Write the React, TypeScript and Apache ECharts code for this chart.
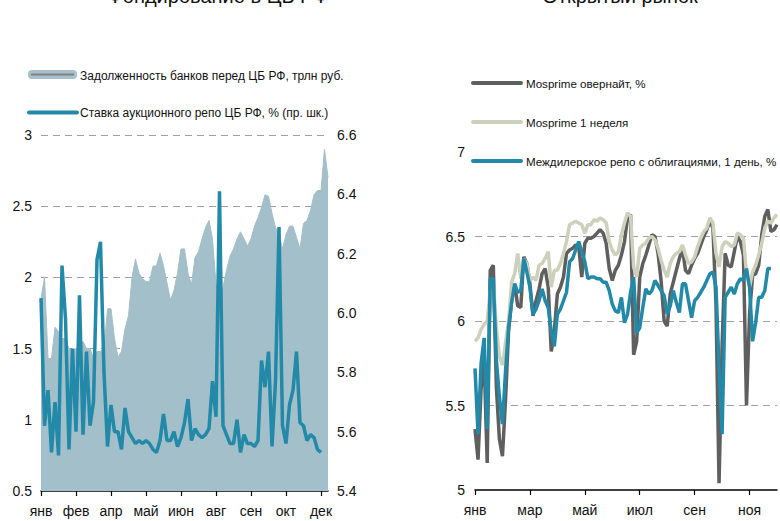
import React, { useEffect, useRef } from "react";
import * as echarts from "echarts";

// ---------- Left panel: Фондирование в ЦБ РФ ----------
const leftMonths = ["янв", "фев", "апр", "май", "июн", "авг", "сен", "окт", "дек"];
const LEFT_STEP = 10;
// Задолженность банков перед ЦБ РФ, трлн руб.
const leftDebt = [
  1.85, 2.0, 1.43, 1.43, 1.65, 1.62, 1.57, 1.57, 1.5, 1.49,
  1.5, 1.52, 1.55, 1.5, 1.5, 1.43, 1.48, 1.48, 1.5, 1.78,
  1.78, 1.57, 1.44, 1.48, 1.64, 1.73, 2.0, 2.13, 2.03, 1.99,
  1.97, 1.97, 2.08, 2.08, 2.17, 2.08, 1.96, 1.84, 1.91, 2.03,
  2.2, 2.2, 2.03, 1.95, 2.14, 2.18, 2.27, 2.35, 2.4, 2.27,
  1.95, 1.9, 1.93, 2.05, 2.15, 2.2, 2.27, 2.32, 2.27, 2.22,
  2.27, 2.36, 2.42, 2.49, 2.58, 2.57, 2.45, 2.35, 2.3, 2.2,
  2.3, 2.36, 2.36, 2.28, 2.2, 2.38, 2.4, 2.47, 2.58, 2.61,
  2.61, 2.9, 2.7,
];
// Ставка аукционного репо ЦБ РФ, % (пр. шк.)
const leftRepo = [
  6.05, 5.62, 5.74, 5.53, 5.7, 5.52, 6.16, 5.98, 5.54, 5.88,
  5.6, 6.06, 5.59, 5.87, 5.62, 5.7, 6.18, 6.24, 5.8, 5.55,
  5.69, 5.6, 5.6, 5.54, 5.68, 5.6, 5.58, 5.56, 5.57, 5.56,
  5.57, 5.56, 5.54, 5.53, 5.57, 5.66, 5.57, 5.57, 5.6, 5.55,
  5.58, 5.63, 5.71, 5.57, 5.61, 5.59, 5.58, 5.59, 5.61, 5.77,
  5.65, 6.41, 5.62, 5.59, 5.56, 5.56, 5.64, 5.53, 5.59, 5.56,
  5.56, 5.55, 5.57, 5.84, 5.75, 5.87, 5.55, 5.77, 6.29, 5.62,
  5.56, 5.69, 5.74, 5.87, 5.63, 5.62, 5.57, 5.59, 5.58, 5.54,
  5.53, null, null,
];

// ---------- Right panel: Открытый рынок ----------
const rightMonths = ["янв", "мар", "май", "июл", "сен", "ноя"];
const RIGHT_STEP = 18;
const mosprimeOvernight = [
  5.36, 5.18, 5.6, 5.77, 5.16, 6.3, 6.33, 5.61, 5.3, 5.2,
  5.53, 5.94, 6.12, 6.22, 6.09, 6.08, 6.38, 6.34, 6.22, 6.03,
  6.12, 6.19, 6.28, 6.31, 6.2, 5.82, 5.94, 6.16, 6.2, 6.26,
  6.4, 6.42, 6.43, 6.45, 6.44, 6.26, 6.46, 6.49, 6.49, 6.5,
  6.52, 6.54, 6.52, 6.46, 6.31, 6.24, 6.3, 6.33, 6.39, 6.47,
  6.61, 6.63, 5.8, 5.88, 6.26, 6.34, 6.39, 6.45, 6.51, 6.5,
  6.4, 6.24, 6.0, 5.97, 6.16, 6.23, 6.3, 6.37, 6.43, 6.3,
  6.28, 6.33, 6.37, 6.4, 6.45, 6.5, 6.54, 6.59, 6.55, 6.1,
  5.04, 5.85, 6.4, 6.33, 6.32, 6.41, 6.5, 6.47, 6.39, 5.5,
  6.04, 6.27, 6.28, 6.33, 6.51, 6.62, 6.66, 6.53, 6.54, 6.57,
];
const mosprimeWeek = [
  5.88, 5.9, 5.95, 5.98, 6.0, 6.18, 6.24, 5.96, 5.79, 5.74,
  5.87, 6.0, 6.23, 6.28, 6.4, 6.25, 6.37, 6.34, 6.24, 6.26,
  6.24, 6.33, 6.34, 6.37, 6.41, 6.2, 6.3, 6.3, 6.34, 6.4,
  6.47, 6.57, 6.58, 6.59, 6.58, 6.57, 6.52, 6.57, 6.57, 6.6,
  6.59, 6.61, 6.6, 6.58, 6.47, 6.42, 6.39, 6.41, 6.51, 6.58,
  6.64, 6.62, 6.32, 6.26, 6.43, 6.45, 6.46, 6.49, 6.5, 6.48,
  6.43, 6.36, 6.3, 6.26, 6.34, 6.38, 6.4, 6.41, 6.45, 6.39,
  6.34, 6.35, 6.38, 6.44, 6.49, 6.53, 6.55, 6.61, 6.58, 6.4,
  6.32, 6.44, 6.47, 6.46, 6.44, 6.45, 6.52, 6.51, 6.49, 6.28,
  6.2, 6.29, 6.33, 6.39, 6.46, 6.55, 6.59, 6.58, 6.61, 6.63,
];
const interdealerRepo = [
  5.72, 5.33, 5.75, 5.9, 5.36, 6.25, 6.25, 5.77, 5.55, 5.39,
  5.7, 5.96, 6.11, 6.22, 6.17, 6.18, 6.37, 6.29, 6.2, 6.04,
  6.07, 6.12, 6.19, 6.12, 6.08, 5.94, 5.85, 6.04, 6.07, 6.12,
  6.17, 6.35, 6.37, 6.42, 6.47, 6.41, 6.35, 6.25, 6.26, 6.26,
  6.25, 6.25, 6.23, 6.23, 6.18, 6.1, 6.06, 6.05, 6.14, 5.99,
  6.04, 6.17, 6.26, 5.93, 5.96, 6.08, 6.19, 6.16, 6.18, 6.24,
  6.21, 6.18, 6.15, 6.04, 6.09, 6.18, 6.11, 6.05, 6.22, 6.22,
  6.12, 6.02, 6.12, 6.14, 6.17, 6.2, 6.24, 6.28, 6.29, 6.2,
  5.73, 5.33, 6.14, 6.17, 6.2, 6.16, 6.22, 6.25, 6.24, 6.31,
  6.2, 5.88, 5.99, 6.14, 6.14, 6.18, 6.31, 6.31, null, null,
];

const FONT = "'Liberation Sans', Arial, sans-serif";
const BLUE = "#2289A9";
const AREA = "#A3BFC9";
const DARK = "#5F5F5F";
const LIGHT = "#CDD1BB";
const GRID_LINE = { show: true, lineStyle: { color: "#A0A0A0", width: 1, type: [7, 5] as any } };

export default function App() {
  const ref = useRef<HTMLDivElement>(null);
  useEffect(() => {
    if (!ref.current) return;
    const chart = echarts.init(ref.current, undefined, { renderer: "svg" });
    const leftCats = leftDebt.map((_, i) => String(i));
    const rightCats = mosprimeOvernight.map((_, i) => String(i));
    const axisText = { color: "#111", fontSize: 14, fontFamily: FONT };
    const xAxisBase = {
      type: "category" as const,
      boundaryGap: false,
      axisLine: { show: true, lineStyle: { color: "#000", width: 1.5 } },
      axisTick: { show: true, length: 5, lineStyle: { color: "#000", width: 1.2 } },
      splitLine: { show: false },
    };
    const legendText = (text: string, x: number, y: number, size: number) => ({
      type: "text",
      x,
      y,
      style: { text, fill: "#111", fontSize: size, fontFamily: FONT, verticalAlign: "middle" },
    });
    const option: any = {
      animation: false,
      backgroundColor: "#fff",
      grid: [
        { left: 41, top: 135, width: 287, height: 356 },
        { left: 475, top: 152, width: 302, height: 338 },
      ],
      xAxis: [
        {
          ...xAxisBase,
          gridIndex: 0,
          data: leftCats,
          axisTick: { ...xAxisBase.axisTick, interval: LEFT_STEP - 1 },
          axisLabel: {
            ...axisText,
            margin: 13,
            interval: LEFT_STEP - 1,
            formatter: (_v: string, i: number) => leftMonths[Math.round(i / LEFT_STEP)] ?? "",
          },
        },
        {
          ...xAxisBase,
          gridIndex: 1,
          data: rightCats,
          axisTick: { ...xAxisBase.axisTick, interval: RIGHT_STEP - 1 },
          axisLabel: {
            ...axisText,
            margin: 13,
            interval: RIGHT_STEP - 1,
            formatter: (_v: string, i: number) => rightMonths[Math.round(i / RIGHT_STEP)] ?? "",
          },
        },
      ],
      yAxis: [
        {
          type: "value",
          gridIndex: 0,
          min: 0.5,
          max: 3,
          interval: 0.5,
          axisLine: { show: false },
          axisTick: { show: false },
          axisLabel: { ...axisText, margin: 9 },
          splitLine: { ...GRID_LINE, showMinLine: false },
        },
        {
          type: "value",
          gridIndex: 0,
          position: "right",
          min: 5.4,
          max: 6.6,
          interval: 0.2,
          axisLine: { show: false },
          axisTick: { show: false },
          axisLabel: { ...axisText, margin: 9, formatter: (v: number) => v.toFixed(1) },
          splitLine: { show: false },
        },
        {
          type: "value",
          gridIndex: 1,
          min: 5,
          max: 7,
          interval: 0.5,
          axisLine: { show: false },
          axisTick: { show: false },
          axisLabel: { ...axisText, margin: 10 },
          splitLine: { ...GRID_LINE, showMinLine: false, showMaxLine: false },
        },
      ],
      series: [
        {
          name: "Задолженность банков перед ЦБ РФ, трлн руб.",
          type: "line",
          xAxisIndex: 0,
          yAxisIndex: 0,
          data: leftDebt,
          symbol: "none",
          lineStyle: { color: AREA, width: 1 },
          areaStyle: { color: AREA, opacity: 1, origin: "start" },
        },
        {
          name: "Ставка аукционного репо ЦБ РФ, % (пр. шк.)",
          type: "line",
          xAxisIndex: 0,
          yAxisIndex: 1,
          data: leftRepo,
          symbol: "none",
          lineStyle: { color: BLUE, width: 3.5 },
        },
        {
          name: "Mosprime овернайт, %",
          type: "line",
          xAxisIndex: 1,
          yAxisIndex: 2,
          data: mosprimeOvernight,
          symbol: "none",
          lineStyle: { color: DARK, width: 3.5 },
        },
        {
          name: "Mosprime 1 неделя",
          type: "line",
          xAxisIndex: 1,
          yAxisIndex: 2,
          data: mosprimeWeek,
          symbol: "none",
          lineStyle: { color: LIGHT, width: 3.5 },
        },
        {
          name: "Междилерское репо с облигациями, 1 день, %",
          type: "line",
          xAxisIndex: 1,
          yAxisIndex: 2,
          data: interdealerRepo,
          symbol: "none",
          lineStyle: { color: BLUE, width: 3.5 },
        },
      ],
      graphic: [
        { type: "text", x: 218, y: 6, style: { text: "Фондирование в ЦБ РФ", fill: "#111", fontSize: 20, fontFamily: FONT, align: "center", verticalAlign: "bottom" } },
        { type: "text", x: 620, y: 6, style: { text: "Открытый рынок", fill: "#111", fontSize: 20, fontFamily: FONT, align: "center", verticalAlign: "bottom" } },
        // left legend
        { type: "rect", shape: { x: 28, y: 70, width: 49, height: 9, r: 4 }, style: { fill: "#A6C1CB" } },
        { type: "line", shape: { x1: 31, y1: 74.5, x2: 74, y2: 74.5 }, style: { stroke: "#808080", lineWidth: 2 } },
        legendText("Задолженность банков перед ЦБ РФ, трлн руб.", 80, 76, 12),
        { type: "line", shape: { x1: 29, y1: 112.5, x2: 77, y2: 112.5 }, style: { stroke: BLUE, lineWidth: 4, lineCap: "round" } },
        legendText("Ставка аукционного репо ЦБ РФ, % (пр. шк.)", 80, 113, 12),
        // right legend
        { type: "line", shape: { x1: 473, y1: 83, x2: 521, y2: 83 }, style: { stroke: DARK, lineWidth: 4, lineCap: "round" } },
        legendText("Mosprime овернайт, %", 526, 83.5, 11.6),
        { type: "line", shape: { x1: 473, y1: 122, x2: 521, y2: 122 }, style: { stroke: LIGHT, lineWidth: 4, lineCap: "round" } },
        legendText("Mosprime 1 неделя", 526, 122.5, 11.6),
        { type: "line", shape: { x1: 473, y1: 161, x2: 521, y2: 161 }, style: { stroke: BLUE, lineWidth: 4, lineCap: "round" } },
        legendText("Междилерское репо с облигациями, 1 день, %", 526, 161.5, 11.6),
      ],
    };
    chart.setOption(option);
    return () => chart.dispose();
  }, []);
  return (
    <div
      ref={ref}
      style={{ position: "fixed", left: 0, top: 0, width: 780, height: 521, background: "#fff" }}
    />
  );
}
